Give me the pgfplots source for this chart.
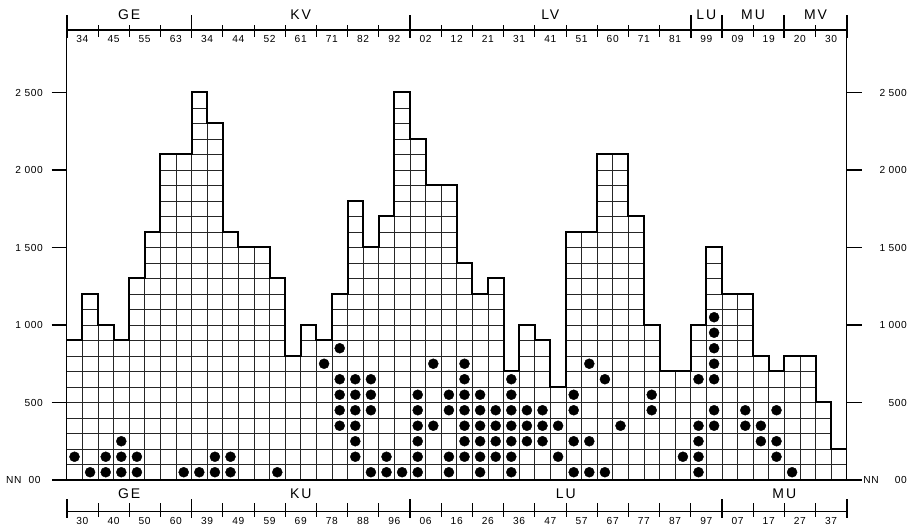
\documentclass[border=0pt]{standalone}
\usepackage{fontspec}
\setmainfont{Liberation Sans}[LetterSpace=6]
\newfontfamily\grpfont{Liberation Sans}[LetterSpace=14]
\usepackage{pgfplots}
\usepackage{pgfplotstable}
\pgfplotsset{compat=1.18}

\pgfplotstableread{
x h
0 900
1 1200
2 1000
3 900
4 1300
5 1600
6 2100
7 2100
8 2500
9 2300
10 1600
11 1500
12 1500
13 1300
14 800
15 1000
16 900
17 1200
18 1800
19 1500
20 1700
21 2500
22 2200
23 1900
24 1900
25 1400
26 1200
27 1300
28 700
29 1000
30 900
31 600
32 1600
33 1600
34 2100
35 2100
36 1700
37 1000
38 700
39 700
40 1000
41 1500
42 1200
43 1200
44 800
45 700
46 800
47 800
48 500
49 200
50 200
}\histdata

\pgfplotstableread{
x y
0.5 150
1.5 50
2.5 50
2.5 150
3.5 50
3.5 150
3.5 250
4.5 50
4.5 150
7.5 50
8.5 50
9.5 50
9.5 150
10.5 50
10.5 150
13.5 50
16.5 750
17.5 350
17.5 450
17.5 550
17.5 650
17.5 850
18.5 150
18.5 250
18.5 350
18.5 450
18.5 550
18.5 650
19.5 50
19.5 450
19.5 550
19.5 650
20.5 50
20.5 150
21.5 50
22.5 50
22.5 150
22.5 250
22.5 350
22.5 450
22.5 550
23.5 350
23.5 750
24.5 50
24.5 150
24.5 450
24.5 550
25.5 150
25.5 250
25.5 350
25.5 450
25.5 550
25.5 650
25.5 750
26.5 50
26.5 150
26.5 250
26.5 350
26.5 450
26.5 550
27.5 150
27.5 250
27.5 350
27.5 450
28.5 50
28.5 150
28.5 250
28.5 350
28.5 450
28.5 550
28.5 650
29.5 250
29.5 350
29.5 450
30.5 250
30.5 350
30.5 450
31.5 150
31.5 350
32.5 50
32.5 250
32.5 450
32.5 550
33.5 50
33.5 250
33.5 750
34.5 50
34.5 650
35.5 350
37.5 450
37.5 550
39.5 150
40.5 50
40.5 150
40.5 250
40.5 350
40.5 650
41.5 350
41.5 450
41.5 650
41.5 750
41.5 850
41.5 950
41.5 1050
43.5 350
43.5 450
44.5 250
44.5 350
45.5 150
45.5 250
45.5 450
46.5 50
}\dotdata

\tikzset{
  tl/.style={font=\fontsize{10.2}{11}\selectfont, inner sep=0pt},
  gl/.style={font=\grpfont\fontsize{14}{15}\selectfont, inner sep=0pt},
}
\newcommand{\tlab}[2]{\node[tl] at (axis cs:#1,2848) {#2};}
\newcommand{\blab}[2]{\node[tl] at (axis cs:#1,-262) {#2};}

\begin{document}
\begin{tikzpicture}
\begin{axis}[
  scale only axis, width=780pt, height=529pt,
  xmin=0, xmax=50, ymin=-316.13, ymax=3096.77,
  hide axis, clip=false,
]
\path (axis cs:-4.276,-316.13) rectangle (axis cs:54.122,3096.77);

% cell grid
\pgfplotsinvokeforeach{1,...,49}{
  \addplot[black!85, line width=0.6pt] coordinates {(#1,0) (#1,2500)};
}
\pgfplotsinvokeforeach{100,200,...,2500}{
  \addplot[black!85, line width=0.6pt] coordinates {(0,#1) (50,#1)};
}
% blank above the bars
\addplot[const plot, fill=white, draw=none] table[x=x,y=h] {\histdata}
  -- (axis cs:50,2560) -- (axis cs:0,2560) -- cycle;
% outline of the bars
\addplot[const plot, black, line width=2pt] table[x=x,y=h] {\histdata};
% dots
\addplot[only marks, mark=*, mark size=5pt, black] table[x=x,y=y] {\dotdata};

% frame lines
\draw[line width=1.8pt] (axis cs:-0.94,0) -- (axis cs:50.98,0);
\draw[line width=1.3pt] (axis cs:0,0) -- (axis cs:0,3000);
\draw[line width=1.3pt] (axis cs:50,0) -- (axis cs:50,3000);
\draw[line width=1.2pt] (axis cs:0,2903) -- (axis cs:50,2903);
\draw[line width=1.2pt] (axis cs:0,-204) -- (axis cs:50,-204);

% y ticks
\pgfplotsinvokeforeach{500,1000,...,2500}{
  \draw[line width=1.5pt] (axis cs:-0.96,#1) -- (axis cs:0,#1);
  \draw[line width=1.5pt] (axis cs:50,#1) -- (axis cs:50.96,#1);
}
\node[tl, anchor=east] at (axis cs:-1.52,2500) {2 500};
\node[tl, anchor=east] at (axis cs:-1.52,2000) {2 000};
\node[tl, anchor=east] at (axis cs:-1.52,1500) {1 500};
\node[tl, anchor=east] at (axis cs:-1.52,1000) {1 000};
\node[tl, anchor=east] at (axis cs:-1.52,500) {500};
\node[tl, anchor=west] at (axis cs:-3.89,0) {NN};
\node[tl, anchor=east] at (axis cs:-1.66,0) {00};
\node[tl, anchor=east] at (axis cs:53.87,2500) {2 500};
\node[tl, anchor=east] at (axis cs:53.87,2000) {2 000};
\node[tl, anchor=east] at (axis cs:53.87,1500) {1 500};
\node[tl, anchor=east] at (axis cs:53.87,1000) {1 000};
\node[tl, anchor=east] at (axis cs:53.87,500) {500};
\node[tl, anchor=west] at (axis cs:51.05,0) {NN};
\node[tl, anchor=east] at (axis cs:53.87,0) {00};

% top scale ticks
\pgfplotsinvokeforeach{2,4,6,10,12,14,16,18,20,24,26,28,30,32,34,36,38,44,48}{
  \draw[line width=0.8pt] (axis cs:#1,2860) -- (axis cs:#1,2935);
}
\pgfplotsinvokeforeach{0,8,22,40,42,46,50}{
  \draw[line width=1.9pt] (axis cs:#1,2852) -- (axis cs:#1,3000);
}
% bottom scale ticks
\pgfplotsinvokeforeach{2,4,6,10,12,14,16,18,20,24,26,28,30,32,34,36,38,40,44,46,48}{
  \draw[line width=0.8pt] (axis cs:#1,-150) -- (axis cs:#1,-240);
}
\pgfplotsinvokeforeach{0,8,22,42,50}{
  \draw[line width=1.9pt] (axis cs:#1,-123) -- (axis cs:#1,-245);
}

% top group names
\node[gl] at (axis cs:4,3000) {GE};
\node[gl] at (axis cs:15,3000) {KV};
\node[gl] at (axis cs:31,3000) {LV};
\node[gl] at (axis cs:41,3000) {LU};
\node[gl] at (axis cs:44,3000) {MU};
\node[gl] at (axis cs:48,3000) {MV};
% bottom group names
\node[gl] at (axis cs:4,-90) {GE};
\node[gl] at (axis cs:15,-90) {KU};
\node[gl] at (axis cs:32,-90) {LU};
\node[gl] at (axis cs:46,-90) {MU};

% top numbers
\tlab{1}{34}\tlab{3}{45}\tlab{5}{55}\tlab{7}{63}
\tlab{9}{34}\tlab{11}{44}\tlab{13}{52}\tlab{15}{61}\tlab{17}{71}\tlab{19}{82}\tlab{21}{92}
\tlab{23}{02}\tlab{25}{12}\tlab{27}{21}\tlab{29}{31}\tlab{31}{41}\tlab{33}{51}\tlab{35}{60}\tlab{37}{71}\tlab{39}{81}
\tlab{41}{99}
\tlab{43}{09}\tlab{45}{19}
\tlab{47}{20}\tlab{49}{30}
% bottom numbers
\blab{1}{30}\blab{3}{40}\blab{5}{50}\blab{7}{60}
\blab{9}{39}\blab{11}{49}\blab{13}{59}\blab{15}{69}\blab{17}{78}\blab{19}{88}\blab{21}{96}
\blab{23}{06}\blab{25}{16}\blab{27}{26}\blab{29}{36}\blab{31}{47}\blab{33}{57}\blab{35}{67}\blab{37}{77}\blab{39}{87}\blab{41}{97}
\blab{43}{07}\blab{45}{17}\blab{47}{27}\blab{49}{37}
\end{axis}
\end{tikzpicture}
\end{document}
